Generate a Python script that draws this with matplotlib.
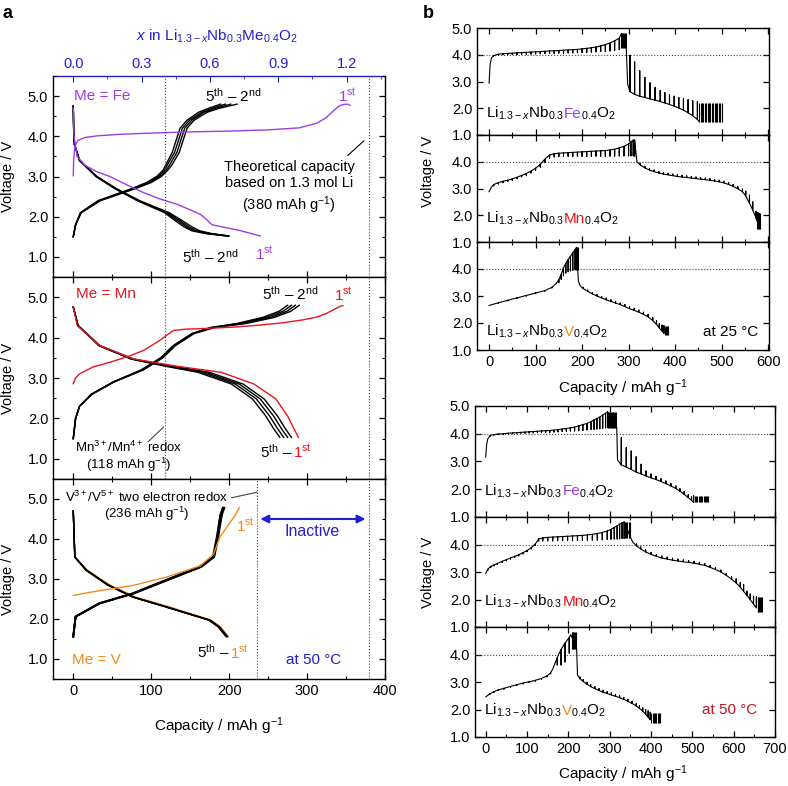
import numpy as np
import matplotlib
matplotlib.use('Agg')
import matplotlib.pyplot as plt
from matplotlib import transforms
from matplotlib.ticker import MultipleLocator, FormatStrFormatter

plt.rcParams['font.family'] = ['Liberation Sans', 'DejaVu Sans']
plt.rcParams['mathtext.fontset'] = 'custom'
plt.rcParams['mathtext.rm'] = 'Liberation Sans'
plt.rcParams['mathtext.it'] = 'Liberation Sans:italic'
plt.rcParams['mathtext.bf'] = 'Liberation Sans:bold'
plt.rcParams['font.size'] = 10.5
plt.rcParams['axes.linewidth'] = 1.0

FE = '#9a3de6'
MN = '#e8141c'
VO = '#f08a1c'
BLUE = '#2020d0'
DRED = '#c0161e'

LI_MOL = 1.3
THEO_CAP = 380   # mAh/g for 1.3 mol Li
MN_REDOX = 118
V_REDOX = 236

# ---------------- panel a: galvanostatic cycles ----------------
# Me = Fe, cycles 2nd..5th on a shared voltage grid
fe_chg_v = [1.5, 1.8, 2.1, 2.4, 2.7, 2.85, 3.0, 3.15, 3.3, 3.6, 3.9, 4.2, 4.4, 4.6, 4.7, 4.8]
fe_chg_caps = [
    [0, 3, 10, 35, 80, 100, 113, 121, 127, 136, 141, 146, 155, 172, 188, 210],
    [0, 3, 10, 34, 78, 98, 111, 119, 124, 133, 138, 143, 152, 168, 183, 202],
    [0, 3, 10, 33, 77, 96, 109, 117, 121, 130, 135, 140, 149, 165, 179, 195],
    [0, 3, 9, 32, 75, 94, 107, 115, 119, 127, 132, 137, 146, 161, 174, 189],
]
fe_dis_v = [4.75, 4.2, 3.8, 3.4, 3.0, 2.7, 2.4, 2.1, 1.9, 1.75, 1.65, 1.58, 1.52]
fe_dis_caps = [
    [0, 0.5, 1.5, 8, 30, 55, 85, 123, 140, 152, 162, 178, 200],
    [0, 0.5, 1.5, 8, 30, 55, 84, 121, 137, 148, 158, 175, 199],
    [0, 0.5, 1.5, 8, 30, 54, 83, 119, 134, 145, 155, 172, 198],
    [0, 0.5, 1.5, 8, 29, 53, 82, 117, 131, 142, 152, 170, 197],
]
fe1_chg_cap = [0, 0.5, 2, 6, 15, 30, 60, 100, 150, 200, 250, 290, 313, 325, 333, 340, 346, 352, 355]
fe1_chg_v = [3.02, 3.4, 3.75, 3.9, 3.97, 4.01, 4.05, 4.08, 4.11, 4.13, 4.16, 4.21, 4.33, 4.47, 4.62, 4.74, 4.79, 4.8, 4.77]
fe1_dis_cap = [0, 1, 5, 15, 30, 47, 70, 90, 110, 133, 150, 163, 170, 178, 195, 215, 240]
fe1_dis_v = [4.7, 4.0, 3.5, 3.28, 3.12, 3.0, 2.78, 2.6, 2.45, 2.31, 2.17, 2.06, 1.95, 1.8, 1.73, 1.65, 1.52]

# Me = Mn
mn_chg_v = [1.5, 2.0, 2.3, 2.6, 2.9, 3.2, 3.5, 3.8, 4.1, 4.25, 4.35, 4.5, 4.65, 4.8]
mn_chg_caps = [
    [0, 3, 8, 24, 52, 90, 115, 131, 155, 182, 222, 258, 279, 290],
    [0, 3, 8, 24, 52, 89, 114, 130, 154, 180, 218, 253, 274, 285],
    [0, 3, 8, 24, 51, 88, 113, 129, 153, 178, 214, 248, 269, 280],
    [0, 3, 8, 23, 51, 87, 112, 128, 152, 176, 210, 243, 264, 275],
]
mn1_chg_cap = [0, 3, 8, 25, 47, 70, 90, 111, 120, 129, 145, 163, 206, 240, 270, 295, 313, 325, 335, 343, 346]
mn1_chg_v = [2.86, 3.0, 3.1, 3.27, 3.39, 3.53, 3.68, 3.93, 4.06, 4.18, 4.21, 4.22, 4.26, 4.31, 4.37, 4.44, 4.51, 4.6, 4.7, 4.78, 4.79]
mn_dis_v = [4.76, 4.3, 3.8, 3.47, 3.3, 3.14, 2.85, 2.48, 2.06, 1.75, 1.53]
mn_dis_caps = [
    [0, 6, 34, 77, 125, 175, 218, 245, 262, 272, 280],
    [0, 6, 34, 76, 122, 170, 213, 240, 257, 267, 275],
    [0, 6, 33, 75, 119, 165, 208, 235, 252, 262, 270],
    [0, 6, 33, 74, 116, 160, 203, 230, 247, 257, 265],
]
mn1_dis_cap = [0, 5, 34, 78, 130, 190, 232, 260, 275, 283, 289]

# Me = V
v_chg_v = [1.56, 2.06, 2.39, 2.64, 2.97, 3.3, 3.55, 4.04, 4.4, 4.62, 4.78]
v_chg_caps = [
    [0, 3, 34, 78, 121, 164, 181, 186, 189, 191, 194],
    [0, 3, 34, 77, 120, 163, 180, 185, 188, 190, 193],
    [0, 3, 33, 77, 119, 162, 180, 185, 187, 189, 192],
    [0, 3, 33, 76, 118, 161, 179, 184, 187, 189, 192],
]
v1_chg_cap = [0, 34, 77, 120, 163, 180, 188, 201, 208, 213]
v1_chg_v = [2.59, 2.71, 2.84, 3.05, 3.33, 3.62, 4.04, 4.41, 4.6, 4.78]
v_dis_v = [4.7, 3.55, 3.22, 2.85, 2.55, 2.3, 1.97, 1.8, 1.56]
v_dis_caps = [
    [0, 2, 17, 45, 77, 120, 176, 188, 198],
    [0, 2, 17, 45, 77, 120, 175, 187, 197],
    [0, 2, 17, 44, 76, 119, 175, 187, 197],
    [0, 2, 16, 44, 76, 119, 174, 186, 196],
]
v1_dis_cap = [0, 2, 18, 47, 80, 124, 177, 189, 199]

# ---------------- panel b: GITT traces (capacity, closed-circuit V, relaxed V) ----------------
fe25_cap = [0, 2, 5, 10, 20, 30, 40, 50, 60, 70, 80, 90, 100, 110, 120, 130, 140, 150, 160, 170,
            180, 190, 200, 210, 220, 230, 240, 250, 260, 270, 280, 285, 295,
            298, 303, 313, 324, 335, 346, 357, 368, 378, 388, 398, 408, 418, 428, 438, 448, 452]
fe25_ccv = [2.94, 3.6, 3.88, 3.97, 4.02, 4.04, 4.05, 4.06, 4.07, 4.08, 4.09, 4.10, 4.11, 4.12, 4.13, 4.14, 4.15, 4.16, 4.17, 4.18,
            4.19, 4.20, 4.22, 4.24, 4.26, 4.29, 4.33, 4.38, 4.44, 4.52, 4.62, 4.8, 4.25,
            2.9, 2.62, 2.52, 2.45, 2.40, 2.35, 2.30, 2.25, 2.20, 2.14, 2.08, 2.01, 1.93, 1.83, 1.72, 1.58, 1.5]
fe25_ocv = [2.94, 3.6, 3.88, 3.96, 3.99, 4.0, 4.0, 4.01, 4.01, 4.02, 4.02, 4.03, 4.03, 4.04, 4.04, 4.05, 4.05, 4.06, 4.06, 4.07,
            4.07, 4.08, 4.08, 4.09, 4.1, 4.11, 4.12, 4.13, 4.14, 4.16, 4.19, 4.8, 4.25,
            2.9, 3.98, 3.73, 3.40, 3.15, 2.95, 2.78, 2.66, 2.58, 2.50, 2.45, 2.40, 2.36, 2.32, 2.28, 2.24, 1.5]
fe25_top_cap = [284, 286, 288, 290, 292, 294]
fe25_end_cap = [452, 455, 458, 461, 464, 467, 470, 473, 476, 479, 482, 485, 488, 491, 494, 497, 500]

mn25_cap = [0, 5, 10, 20, 30, 40, 50, 60, 70, 80, 90, 100, 110, 120, 130, 140, 150, 160, 170, 180,
            190, 200, 210, 220, 230, 240, 250, 260, 270, 280, 290, 300, 305, 310, 313,
            318, 325, 335, 345, 355, 365, 375, 385, 395, 405, 415, 425, 435, 445, 455,
            465, 475, 485, 495, 505, 515, 525, 535, 545, 552, 560, 567, 574, 578, 581]
mn25_ccv = [2.88, 3.05, 3.15, 3.22, 3.27, 3.31, 3.36, 3.42, 3.49, 3.56, 3.65, 3.76, 3.9, 4.1, 4.25, 4.3, 4.32, 4.33, 4.34, 4.35,
            4.36, 4.37, 4.38, 4.39, 4.4, 4.41, 4.42, 4.44, 4.47, 4.52, 4.58, 4.66, 4.75, 4.81, 4.81,
            4.0, 3.88, 3.77, 3.69, 3.63, 3.58, 3.54, 3.51, 3.48, 3.45, 3.43, 3.41, 3.39, 3.37, 3.35,
            3.33, 3.31, 3.28, 3.25, 3.21, 3.15, 3.08, 2.99, 2.88, 2.72, 2.45, 2.2, 1.9, 1.7, 1.5]
mn25_ocv = [2.88, 3.05, 3.1, 3.17, 3.22, 3.26, 3.31, 3.37, 3.44, 3.5, 3.58, 3.68, 3.8, 3.98, 4.12, 4.18, 4.2, 4.2, 4.2, 4.2,
            4.2, 4.2, 4.2, 4.21, 4.21, 4.21, 4.21, 4.21, 4.21, 4.22, 4.22, 4.22, 4.22, 4.22, 4.2,
            4.0, 3.93, 3.83, 3.75, 3.69, 3.64, 3.6, 3.57, 3.54, 3.51, 3.49, 3.47, 3.45, 3.43, 3.41,
            3.39, 3.37, 3.34, 3.31, 3.27, 3.22, 3.15, 3.07, 2.98, 2.9, 2.75, 2.5, 2.15, 2.1, 2.05]
mn25_end_cap = [576, 578, 580, 582]

v25_cap = [0, 20, 40, 60, 80, 100, 120, 135, 145, 150, 155, 160, 165, 170, 175, 180, 185, 188,
           192, 196, 202, 212, 222, 232, 242, 252, 262, 272, 282, 292, 302, 312, 322, 332, 342, 352, 360, 366, 372, 376]
v25_ccv = [2.65, 2.75, 2.84, 2.93, 3.02, 3.11, 3.2, 3.32, 3.48, 3.6, 3.8, 4.05, 4.2, 4.35, 4.47, 4.6, 4.72, 4.8,
           3.55, 3.38, 3.28, 3.17, 3.08, 3.0, 2.93, 2.86, 2.8, 2.74, 2.68, 2.61, 2.53, 2.47, 2.4, 2.32, 2.23, 2.09, 1.95, 1.82, 1.7, 1.62]
v25_ocv = [2.65, 2.73, 2.82, 2.91, 3.0, 3.09, 3.18, 3.3, 3.46, 3.5, 3.62, 3.75, 3.85, 3.9, 3.93, 3.95, 3.97, 3.98,
           3.55, 3.38, 3.32, 3.22, 3.13, 3.05, 2.98, 2.92, 2.86, 2.8, 2.74, 2.68, 2.6, 2.54, 2.48, 2.4, 2.32, 2.2, 2.08, 1.98, 1.92, 1.9]
v25_top_cap = [187, 189, 191]
v25_end_cap = [378, 380, 382, 384]

fe50_cap = [0, 2, 5, 11, 20, 30, 43, 55, 65, 75, 85, 95, 105, 115, 125, 135, 145, 155, 165, 175,
            185, 195, 205, 215, 225, 235, 245, 255, 262, 269, 276, 283, 290, 295,
            317, 319, 328, 340, 352, 364, 376, 388, 400, 412, 424, 436, 448, 460, 470, 480, 490, 498, 503]
fe50_ccv = [3.16, 3.6, 3.82, 3.94, 3.97, 3.99, 4.0, 4.02, 4.03, 4.04, 4.05, 4.06, 4.07, 4.08, 4.09, 4.1, 4.11, 4.12, 4.13, 4.15,
            4.17, 4.19, 4.21, 4.24, 4.28, 4.33, 4.37, 4.44, 4.5, 4.55, 4.6, 4.67, 4.74, 4.79,
            4.22, 3.05, 2.88, 2.80, 2.71, 2.62, 2.55, 2.48, 2.41, 2.35, 2.28, 2.2, 2.12, 2.03, 1.93, 1.82, 1.7, 1.6, 1.53]
fe50_ocv = [3.16, 3.6, 3.82, 3.92, 3.95, 3.97, 3.98, 3.99, 4.0, 4.01, 4.02, 4.02, 4.03, 4.03, 4.04, 4.04, 4.05, 4.05, 4.06, 4.07,
            4.08, 4.09, 4.1, 4.1, 4.11, 4.12, 4.14, 4.15, 4.16, 4.17, 4.18, 4.2, 4.21, 4.22,
            4.22, 3.05, 3.86, 3.5, 3.38, 3.17, 2.9, 2.66, 2.55, 2.46, 2.38, 2.3, 2.21, 2.12, 2.02, 1.92, 1.8, 1.72, 1.76]
fe50_top_cap = [297, 299, 301, 303, 305, 307, 309, 311, 313, 315]
fe50_end_cap = [506, 509, 512, 515, 518, 521, 524, 527, 530, 533, 536, 539]

mn50_cap = [0, 5, 12, 20, 28, 40, 50, 60, 70, 80, 90, 100, 110, 120, 128, 138, 150, 162, 174, 186,
            198, 210, 222, 234, 246, 258, 270, 282, 294, 303, 311, 318, 324, 330, 335,
            352, 356, 365, 375, 387, 400, 413, 426, 439, 452, 465, 478, 491, 504, 517, 530, 543, 556,
            569, 582, 595, 606, 616, 624, 632, 640, 648, 655]
mn50_ccv = [2.95, 3.1, 3.2, 3.26, 3.31, 3.39, 3.45, 3.51, 3.57, 3.63, 3.7, 3.78, 3.88, 4.02, 4.2, 4.24, 4.26, 4.27, 4.28, 4.29,
            4.3, 4.31, 4.32, 4.33, 4.35, 4.37, 4.4, 4.44, 4.49, 4.55, 4.62, 4.68, 4.74, 4.79, 4.82,
            4.2, 4.08, 3.95, 3.84, 3.73, 3.64, 3.57, 3.51, 3.47, 3.43, 3.4, 3.37, 3.35, 3.32, 3.28, 3.24, 3.17, 3.09,
            3.0, 2.88, 2.74, 2.6, 2.45, 2.3, 2.15, 2.0, 1.83, 1.7]
mn50_ocv = [2.95, 3.07, 3.16, 3.22, 3.27, 3.35, 3.41, 3.47, 3.53, 3.59, 3.66, 3.74, 3.84, 3.97, 4.13, 4.13, 4.13, 4.13, 4.14, 4.14,
            4.14, 4.14, 4.15, 4.15, 4.15, 4.16, 4.16, 4.17, 4.18, 4.19, 4.2, 4.2, 4.21, 4.22, 4.22,
            4.2, 4.08, 4.02, 3.91, 3.8, 3.71, 3.64, 3.58, 3.54, 3.5, 3.47, 3.44, 3.42, 3.39, 3.35, 3.31, 3.24, 3.16,
            3.07, 2.95, 2.82, 2.75, 2.62, 2.55, 2.3, 2.2, 2.12, 2.1]
mn50_top_cap = [337, 340, 343, 346, 349]
mn50_end_cap = [658, 660, 662, 664, 666, 668]

v50_cap = [0, 10, 20, 30, 44, 60, 75, 90, 105, 120, 135, 148, 157, 163, 168, 173, 177, 182, 187, 192, 197, 202, 206,
           220, 222, 228, 236, 245, 254, 264, 274, 284, 294, 304, 314, 324, 334, 344, 354, 364, 372, 380, 387, 393, 398]
v50_ccv = [2.46, 2.57, 2.65, 2.71, 2.77, 2.84, 2.9, 2.96, 3.01, 3.06, 3.13, 3.22, 3.33, 3.5, 3.7, 3.88, 4.03, 4.17, 4.3, 4.42, 4.52, 4.62, 4.72,
           4.21, 3.25, 3.12, 3.02, 2.92, 2.83, 2.76, 2.69, 2.63, 2.58, 2.53, 2.48, 2.43, 2.37, 2.3, 2.22, 2.13, 2.04, 1.94, 1.83, 1.72, 1.63]
v50_ocv = [2.46, 2.55, 2.63, 2.69, 2.74, 2.81, 2.87, 2.93, 2.98, 3.03, 3.1, 3.19, 3.3, 3.5, 3.7, 3.62, 4.03, 3.62, 4.3, 3.73, 4.52, 4.05, 4.72,
           4.21, 3.25, 3.18, 3.09, 2.99, 2.9, 2.83, 2.76, 2.7, 2.65, 2.6, 2.55, 2.5, 2.44, 2.37, 2.3, 2.21, 2.14, 2.06, 2.0, 1.95, 1.9]
v50_top_cap = [208, 210, 212, 214, 216, 218]
v50_end_cap = [401, 404, 407, 410, 413, 416, 419, 422]

# ---------------- figure ----------------
W, H = 788, 786
fig = plt.figure(figsize=(W / 100, H / 100), dpi=100)
renderer = fig.canvas.get_renderer()


def rect(l, t, r, b):
    return [l / W, 1 - b / H, (r - l) / W, (b - t) / H]


def fpos(x, y):
    return x / W, 1 - y / H


def colored_text(ax, x, y, parts, transform=None, **kw):
    # place text pieces side by side, each in its own colour
    tr = ax.transData if transform is None else transform
    for s, c in parts:
        t = ax.text(x, y, s, color=c, transform=tr, ha='left', va='baseline', **kw)
        w = t.get_window_extent(renderer).width
        tr = transforms.offset_copy(t.get_transform(), x=w, units='dots')


def formula(ax, x, y, name, col, fs=11):
    # Li1.3-xNb0.3Me0.4O2 with the metal coloured
    tr = ax.get_yaxis_transform()
    pre = r'Li$_{1.3-x}$Nb$_{0.3}$'
    post = r'$_{0.4}$O$_{2}$'
    full = pre + r'$\mathrm{' + name + r'}$' + post
    kw = dict(transform=tr, va='baseline', fontsize=fs)
    t1 = ax.text(x, y, pre, ha='left', **kw)
    w1 = t1.get_window_extent(renderer).width
    tmp = ax.text(x, y, full, ha='left', **kw)
    wf = tmp.get_window_extent(renderer).width
    tmp.remove()
    ax.text(x, y, name, color=col, ha='left', va='baseline', fontsize=fs,
            transform=transforms.offset_copy(tr, x=w1, units='dots'))
    ax.text(x, y, post, ha='right', va='baseline', fontsize=fs,
            transform=transforms.offset_copy(tr, x=wf, units='dots'))


def gitt(ax, cap, ccv, ocv):
    xs, ys = [], []
    for c, v, o in zip(cap, ccv, ocv):
        xs += [c, c, c]
        ys += [v, o, v]
    ax.plot(xs, ys, color='k', lw=0.8)


def style_ticks(ax, top=True):
    ax.xaxis.set_major_locator(MultipleLocator(100))
    ax.xaxis.set_minor_locator(MultipleLocator(50))
    ax.tick_params(which='both', direction='in', top=top, right=True, labelsize=10.5)
    ax.tick_params(which='major', length=4, width=0.9)
    ax.tick_params(which='minor', length=2.5, width=0.8)
    ax.yaxis.set_major_formatter(FormatStrFormatter('%.1f'))


# ---- panel a ----
rows_a = [76, 277, 479, 679]
axa = [fig.add_axes(rect(53, rows_a[i], 385, rows_a[i + 1])) for i in range(3)]
for i, ax in enumerate(axa):
    ax.set_xlim(-26, 400)
    ax.set_ylim(0.5, 5.5)
    ax.set_yticks([1, 2, 3, 4, 5])
    ax.yaxis.set_minor_locator(MultipleLocator(0.5))
    style_ticks(ax, top=(i > 0))
    ax.tick_params(axis='x', labelbottom=(i == 2))
    ax.set_ylabel('Voltage / V', fontsize=10.5)
    ax.yaxis.set_label_coords(-0.114, 0.5)
    ax.axvline(THEO_CAP, color='#444444', ls=':', lw=0.8)

axa[0].spines['top'].set_visible(False)
sec = axa[0].secondary_xaxis('top', functions=(lambda c: c * LI_MOL / THEO_CAP,
                                              lambda x: x * THEO_CAP / LI_MOL))
sec.set_xticks([0, 0.3, 0.6, 0.9, 1.2])
sec.xaxis.set_minor_locator(MultipleLocator(0.15))
sec.xaxis.set_major_formatter(FormatStrFormatter('%.1f'))
sec.tick_params(which='both', direction='in', colors=BLUE, labelsize=10.5)
sec.tick_params(which='major', length=4)
sec.tick_params(which='minor', length=2.5)
sec.spines['top'].set_color(BLUE)
fig.text(*fpos(217, 36), r'$x$ in Li$_{1.3-x}$Nb$_{0.3}$Me$_{0.4}$O$_2$', color=BLUE,
         ha='center', va='center', fontsize=11)

# Fe
ax = axa[0]
for caps in fe_chg_caps:
    ax.plot(caps, fe_chg_v, color='k', lw=1)
for caps in fe_dis_caps:
    ax.plot(caps, fe_dis_v, color='k', lw=1)
ax.plot(fe1_chg_cap, fe1_chg_v, color=FE, lw=1)
ax.plot(fe1_dis_cap, fe1_dis_v, color=FE, lw=1)
ax.axvline(MN_REDOX, color='#444444', ls=':', lw=0.8)
ax.text(1, 5.0, 'Me = Fe', color=FE, ha='left', va='center', fontsize=11)
ax.text(206, 5.0, r'5$^{\rm th}$ – 2$^{\rm nd}$', ha='center', va='center', fontsize=11)
ax.text(352, 5.0, r'1$^{\rm st}$', color=FE, ha='center', va='center', fontsize=11)
ax.text(277, 2.72, 'Theoretical capacity\nbased on 1.3 mol Li\n(380 mAh g$^{-1}$)',
        ha='center', va='center', fontsize=10.5, linespacing=1.25)
ax.annotate('', xy=(373, 3.89), xytext=(352, 3.52),
            arrowprops=dict(arrowstyle='-', color='k', lw=0.8, shrinkA=0, shrinkB=0))
ax.text(176, 1.0, r'5$^{\rm th}$ – 2$^{\rm nd}$', ha='center', va='center', fontsize=11)
ax.text(245, 1.08, r'1$^{\rm st}$', color=FE, ha='center', va='center', fontsize=11)

# Mn
ax = axa[1]
for caps in mn_chg_caps:
    ax.plot(caps, mn_chg_v, color='k', lw=1)
for caps in mn_dis_caps:
    ax.plot(caps, mn_dis_v, color='k', lw=1)
ax.plot(mn1_chg_cap, mn1_chg_v, color=MN, lw=1)
ax.plot(mn1_dis_cap, mn_dis_v, color=MN, lw=1)
ax.axvline(MN_REDOX, color='#444444', ls=':', lw=0.8)
ax.text(4, 5.09, 'Me = Mn', color=MN, ha='left', va='center', fontsize=11)
ax.text(279, 5.09, r'5$^{\rm th}$ – 2$^{\rm nd}$', ha='center', va='center', fontsize=11)
ax.text(347, 5.07, r'1$^{\rm st}$', color=MN, ha='center', va='center', fontsize=11)
ax.text(71, 1.27, r'Mn$^{3+}$/Mn$^{4+}$ redox', ha='center', va='center', fontsize=9.5)
ax.text(71, 0.86, r'(118 mAh g$^{-1}$)', ha='center', va='center', fontsize=9.5)
ax.annotate('', xy=(116, 1.79), xytext=(96, 1.42),
            arrowprops=dict(arrowstyle='-', color='#444444', lw=0.8, shrinkA=0, shrinkB=0))
colored_text(ax, 240, 1.03, [(r'5$^{\rm th}$ – ', 'k'), (r'1$^{\rm st}$', MN)], fontsize=11)

# V
ax = axa[2]
ax.plot(v1_dis_cap, v_dis_v, color=VO, lw=1)
for caps in v_chg_caps:
    ax.plot(caps, v_chg_v, color='k', lw=1.3)
for caps in v_dis_caps:
    ax.plot(caps, v_dis_v, color='k', lw=1)
ax.plot(v1_chg_cap, v1_chg_v, color=VO, lw=1)
ax.axvline(V_REDOX, color='#444444', ls=':', lw=0.8)
ax.text(94, 5.04, r'V$^{3+}$/V$^{5+}$ two electron redox', ha='center', va='center', fontsize=9.5)
ax.text(94, 4.62, r'(236 mAh g$^{-1}$)', ha='center', va='center', fontsize=9.5)
ax.annotate('', xy=(236, 5.17), xytext=(203, 5.03),
            arrowprops=dict(arrowstyle='-', color='#444444', lw=0.8, shrinkA=0, shrinkB=0))
ax.annotate('', xy=(375, 4.5), xytext=(240, 4.5),
            arrowprops=dict(arrowstyle='<|-|>', color=BLUE, lw=1.5, mutation_scale=12,
                            shrinkA=0, shrinkB=0))
ax.text(307, 4.2, 'Inactive', color=BLUE, ha='center', va='center', fontsize=11.5)
ax.text(221, 4.32, r'1$^{\rm st}$', color=VO, ha='center', va='center', fontsize=11)
colored_text(ax, 159, 1.02, [(r'5$^{\rm th}$ – ', 'k'), (r'1$^{\rm st}$', VO)], fontsize=11)
ax.text(-2, 0.98, 'Me = V', color=VO, ha='left', va='center', fontsize=11)
ax.text(309, 0.98, 'at 50 °C', color=BLUE, ha='center', va='center', fontsize=11)

fig.text(*fpos(219, 726), r'Capacity / mAh g$^{-1}$', ha='center', va='center', fontsize=11)
fig.text(*fpos(8, 14), 'a', fontweight='bold', fontsize=13, ha='center', va='center')

# ---- panel b ----
rows_b1 = [28, 135, 242, 350]
rows_b2 = [406, 517, 627, 737]
axb1 = [fig.add_axes(rect(477, rows_b1[i], 769, rows_b1[i + 1])) for i in range(3)]
axb2 = [fig.add_axes(rect(475, rows_b2[i], 775, rows_b2[i + 1])) for i in range(3)]

for group, xmax in ((axb1, 602), (axb2, 700)):
    for i, ax in enumerate(group):
        ax.set_xlim(-26, xmax)
        ax.set_ylim(1.0, 5.0)
        ax.set_yticks([1, 2, 3, 4, 5])
        style_ticks(ax)
        if i > 0:
            ax.set_yticklabels(['1.0', '2.0', '3.0', '4.0', ''])
        ax.tick_params(axis='x', labelbottom=(i == 2))
        ax.axhline(4.0, color='#444444', ls=':', lw=0.8)

traces = [
    (axb1[0], fe25_cap, fe25_ccv, fe25_ocv, [(fe25_top_cap, 4.25, 4.8), (fe25_end_cap, 1.5, 2.19)]),
    (axb1[1], mn25_cap, mn25_ccv, mn25_ocv, [(mn25_end_cap, 1.5, 2.08)]),
    (axb1[2], v25_cap, v25_ccv, v25_ocv, [(v25_top_cap, 3.95, 4.8), (v25_end_cap, 1.55, 1.88)]),
    (axb2[0], fe50_cap, fe50_ccv, fe50_ocv, [(fe50_top_cap, 4.22, 4.8), (fe50_end_cap, 1.53, 1.76)]),
    (axb2[1], mn50_cap, mn50_ccv, mn50_ocv, [(mn50_top_cap, 4.22, 4.82), (mn50_end_cap, 1.55, 2.08)]),
    (axb2[2], v50_cap, v50_ccv, v50_ocv, [(v50_top_cap, 4.21, 4.82), (v50_end_cap, 1.52, 1.86)]),
]
for ax, cap, ccv, ocv, blocks in traces:
    gitt(ax, cap, ccv, ocv)
    for bc, lo, hi in blocks:
        ax.vlines(bc, lo, hi, color='k', lw=0.8)

me_names = [('Fe', FE), ('Mn', MN), ('V', VO)]
label_y = [[1.64, 1.72, 1.53], [1.78, 1.76, 1.80]]
for g, group in enumerate((axb1, axb2)):
    for i, ax in enumerate(group):
        name, col = me_names[i]
        formula(ax, 0.03, label_y[g][i], name, col)

axb1[2].text(578, 1.53, 'at 25 °C', ha='right', va='baseline', fontsize=11)
axb2[2].text(657, 1.85, 'at 50 °C', color=DRED, ha='right', va='baseline', fontsize=11)

fig.text(*fpos(428, 171), 'Voltage / V', rotation=90, ha='center', va='center', fontsize=10.5)
fig.text(*fpos(428, 572), 'Voltage / V', rotation=90, ha='center', va='center', fontsize=10.5)
fig.text(*fpos(623, 388), r'Capacity / mAh g$^{-1}$', ha='center', va='center', fontsize=11)
fig.text(*fpos(623, 774), r'Capacity / mAh g$^{-1}$', ha='center', va='center', fontsize=11)
fig.text(*fpos(428, 13), 'b', fontweight='bold', fontsize=13, ha='center', va='center')

fig.savefig('out.png', dpi=100)
